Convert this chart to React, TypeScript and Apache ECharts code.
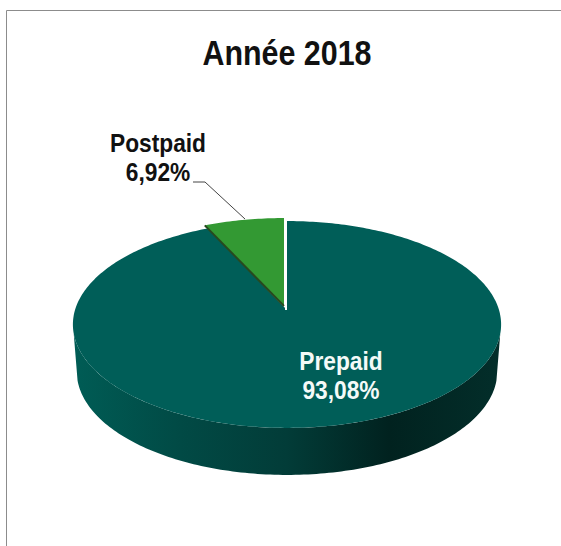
import React, { useEffect, useRef } from "react";
import * as echarts from "echarts";

const titleText = "Année 2018";
const categories = ["Prepaid", "Postpaid"];
const shares = [93.08, 6.92];
const shareLabels = ["93,08%", "6,92%"];

const FONT = '"Liberation Sans", Arial, sans-serif';
const TOP_COLOR = "#005e58";
const SLICE_COLOR = "#339933";

// Perspective projection of the unit circle on the disc's top face
const CX = 287;
const APEX_Y = 310;
const A = 212;
const B = 58;
const P = 0.14;
const project = (deg: number, r = 1, dx = 0, dy = 0): number[] => {
  const t = (deg * Math.PI) / 180;
  const X = r * Math.sin(t);
  const Y = r * Math.cos(t);
  const w = 1 + P * Y;
  return [CX + (A * X) / w + dx, (APEX_Y - B * Y) / w + dy];
};
const rim = (from: number, to: number, dx = 0, dy = 0): number[][] => {
  const pts: number[][] = [];
  const n = Math.max(2, Math.ceil(Math.abs(to - from)));
  for (let i = 0; i <= n; i++) pts.push(project(from + ((to - from) * i) / n, 1, dx, dy));
  return pts;
};

const startAngle = (index: number): number =>
  (shares.slice(0, index).reduce((s, v) => s + v, 0) / shares.reduce((s, v) => s + v, 0)) * 360;

const renderItem = (_params: any, api: any) => {
  const index = _params.dataIndex;
  const from = startAngle(index);
  const to = from + (api.value(0) / shares.reduce((s, v) => s + v, 0)) * 360;
  const label = `${categories[index]}\n${shareLabels[index]}`;

  if (index === 0) {
    // side wall: visible front half of the disc, lower rim is slightly narrower
    const upper = rim(103, 257);
    const lower = rim(257, 103).map(([x, y]) => [CX + (x - CX) * 0.982, y + 47]);
    const wallFill = new echarts.graphic.LinearGradient(0, 0, 1, 0, [
      { offset: 0, color: "#005c55" },
      { offset: 0.25, color: "#014a45" },
      { offset: 0.5, color: "#023c38" },
      { offset: 0.74, color: "#01221f" },
      { offset: 1, color: "#032e2a" },
    ]);
    return {
      type: "group",
      children: [
        { type: "polygon", shape: { points: [...upper, ...lower] }, style: { fill: wallFill } },
        { type: "polygon", shape: { points: [[CX, APEX_Y], ...rim(from, to)] }, style: { fill: TOP_COLOR } },
        {
          type: "line",
          shape: { x1: CX - 1, y1: APEX_Y, x2: CX - 1, y2: project(0)[1] },
          style: { stroke: "#ffffff", lineWidth: 2 },
        },
        {
          type: "text",
          x: 341,
          y: 375,
          scaleX: 0.875,
          style: {
            text: label,
            fill: "#f4faf8",
            font: `bold 26px ${FONT}`,
            lineHeight: 29,
            align: "center",
            verticalAlign: "middle",
          },
        },
      ],
    };
  }

  const dx = -3;
  const dy = -3;
  const corner = project(from, 1, dx, dy);
  const tip = [CX + dx, APEX_Y + dy - 1];
  return {
    type: "group",
    children: [
      {
        type: "polygon",
        shape: { points: [tip, ...rim(from, to, dx, dy)] },
        style: { fill: SLICE_COLOR },
      },
      {
        type: "line",
        shape: { x1: corner[0], y1: corner[1], x2: tip[0], y2: tip[1] },
        style: { stroke: "#27491f", lineWidth: 2 },
      },
      {
        type: "polyline",
        shape: { points: [[193, 182], [205, 182], [245, 219]] },
        style: { stroke: "#444444", lineWidth: 1, fill: "none" },
      },
      {
        type: "text",
        x: 158,
        y: 157,
        scaleX: 0.875,
        style: {
          text: label,
          fill: "#111111",
          font: `bold 26px ${FONT}`,
          lineHeight: 29,
          align: "center",
          verticalAlign: "middle",
        },
      },
    ],
  };
};

export default function App() {
  const ref = useRef<HTMLDivElement>(null);
  useEffect(() => {
    document.body.style.margin = "0";
    const chart = echarts.init(ref.current as HTMLDivElement, undefined, { renderer: "svg" });
    chart.setOption({
      animation: false,
      backgroundColor: "#ffffff",
      graphic: [
        {
          type: "polyline",
          shape: { points: [[6.5, 546], [6.5, 10.5], [561, 10.5]] },
          style: { stroke: "#8c8c8c", lineWidth: 1, fill: "none" },
        },
        {
          type: "text",
          x: 287,
          y: 53,
          scaleX: 0.845,
          style: {
            text: titleText,
            fill: "#111111",
            font: `bold 36px ${FONT}`,
            align: "center",
            verticalAlign: "middle",
          },
        },
      ],
      series: [
        {
          type: "custom",
          coordinateSystem: "none",
          renderItem,
          data: shares.map((v, i) => ({ name: categories[i], value: [v] })),
        },
      ],
    });
    return () => chart.dispose();
  }, []);
  return <div ref={ref} style={{ width: 561, height: 546 }} />;
}
